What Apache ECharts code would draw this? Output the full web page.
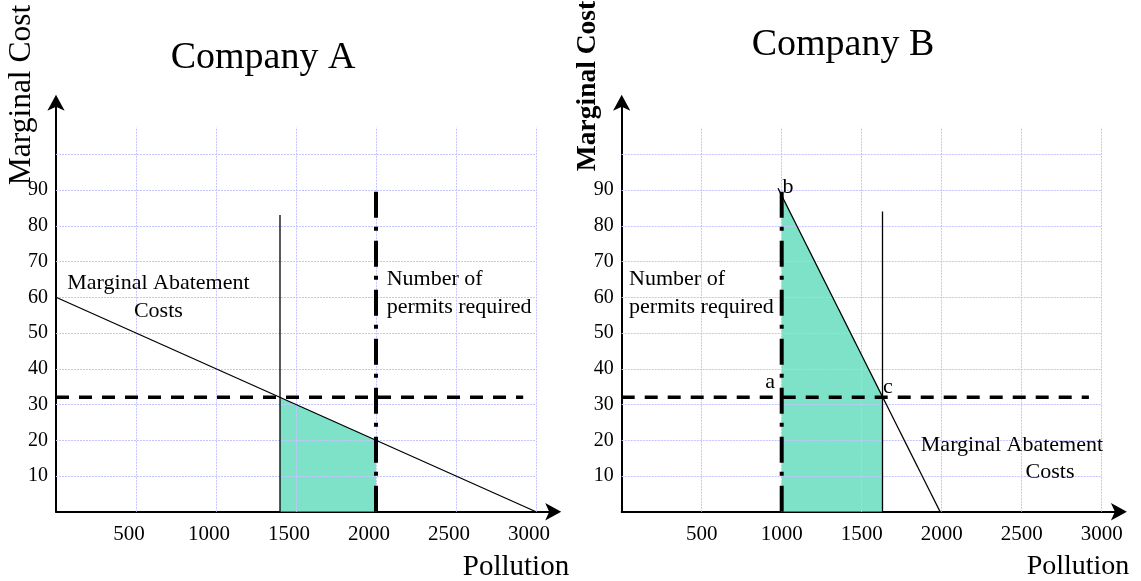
<!DOCTYPE html>
<html>
<head>
<meta charset="utf-8">
<script src="https://cdn.jsdelivr.net/npm/echarts@6/dist/echarts.min.js"></script>
<style>
html,body{margin:0;padding:0;background:#fff;}
#c{width:1141px;height:581px;}
</style>
</head>
<body>
<div id="c"></div>
<script>
// ---- data ----
var xTickLabels = [500, 1000, 1500, 2000, 2500, 3000];
var yTickLabels = [10, 20, 30, 40, 50, 60, 70, 80, 90];
var yGridValues = [10, 20, 30, 40, 50, 60, 70, 80, 90, 100];
var gridTopValue = 107.5;
var gridRightValue = 3000;

// Company A
var macA = [[0, 60], [3000, 0]];
var areaA = [[1400, 0], [1400, 32], [2000, 20], [2000, 0]];
var thinA = [[1400, 0], [1400, 83]];
var permitsA = [[2000, 0], [2000, 90]];
var priceA = [[0, 32], [2920, 32]];

// Company B
var macB = [[977, 90.5], [1990, 0]];
var areaB = [[1000, 0], [1000, 88.4], [1630, 32.2], [1630, 0]];
var thinB = [[1630, 0], [1630, 84]];
var permitsB = [[1000, 0], [1000, 90]];
var priceB = [[0, 32], [2920, 32]];

var labelsA = [
  {value: [640, 60], text: 'Marginal Abatement\nCosts', align: 'center'},
  {value: [2067, 61], text: 'Number of\npermits required', align: 'left'}
];
var labelsB = [
  {value: [46, 61], text: 'Number of\npermits required', align: 'left'},
  {value: [2439, 18.7], text: 'Marginal Abatement', align: 'center'},
  {value: [2677, 11.1], text: 'Costs', align: 'center'},
  {value: [1039, 90.8], text: 'b', align: 'center'},
  {value: [927, 36.3], text: 'a', align: 'center'},
  {value: [1664, 34.9], text: 'c', align: 'center'}
];

// ---- chart ----
var FONT = '"Liberation Serif", "Times New Roman", serif';
var chart = echarts.init(document.getElementById('c'), null, {renderer: 'canvas'});

var X_MAX = 3120, Y_MAX = 115;
var PX_X = 0.16, PX_Y = 3.575;
var gridW = X_MAX * PX_X, gridH = Y_MAX * PX_Y;
var axisBottom = 511.75;

function gridDef(left) {
  return {left: left, top: axisBottom - gridH, width: gridW, height: gridH, containLabel: false};
}
function xAxisDef(idx, shiftPad) {
  return {
    type: 'value', gridIndex: idx, min: 0, max: X_MAX, interval: 500,
    axisLine: {show: true, lineStyle: {color: '#000', width: 2}, symbol: ['none', 'arrow'], symbolSize: [13, 16], symbolOffset: [0, 6]},
    axisTick: {show: false}, splitLine: {show: false},
    axisLabel: {
      fontFamily: FONT, fontSize: 21, color: '#000', margin: 12,
      formatter: function (v) { return xTickLabels.indexOf(v) >= 0 ? '{t|' + v + '}' : ''; },
      rich: {t: {fontFamily: FONT, fontSize: 21, color: '#000', padding: [0, shiftPad, 0, 0]}}
    }
  };
}
function yAxisDef(idx) {
  return {
    type: 'value', gridIndex: idx, min: 0, max: Y_MAX, interval: 10,
    axisLine: {show: true, lineStyle: {color: '#000', width: 2}, symbol: ['none', 'arrow'], symbolSize: [13, 16], symbolOffset: [0, 6]},
    axisTick: {show: false}, splitLine: {show: false},
    axisLabel: {
      fontFamily: FONT, fontSize: 20, color: '#000', margin: 8,
      formatter: function (v) { return yTickLabels.indexOf(v) >= 0 ? String(v) : ''; }
    }
  };
}

function gridLinesSeries(idx) {
  var d = [];
  xTickLabels.forEach(function (x) { d.push([{coord: [x, 0]}, {coord: [x, gridTopValue]}]); });
  yGridValues.forEach(function (y) { d.push([{coord: [0, y]}, {coord: [gridRightValue, y]}]); });
  return {
    type: 'line', xAxisIndex: idx, yAxisIndex: idx, data: [], z: 3, silent: true,
    markLine: {
      silent: true, symbol: ['none', 'none'], label: {show: false},
      lineStyle: {color: '#c4c4ff', width: 1, type: [2, 1]},
      emphasis: {disabled: true},
      data: d
    }
  };
}
function lineSeries(idx, data, style, z) {
  return {
    type: 'line', xAxisIndex: idx, yAxisIndex: idx, data: data, symbol: 'none', silent: true,
    lineStyle: style, z: z || 5, animation: false
  };
}
function areaSeries(idx, data) {
  return {
    type: 'line', xAxisIndex: idx, yAxisIndex: idx, data: data, symbol: 'none', silent: true,
    lineStyle: {width: 0}, areaStyle: {color: '#7de2c8', opacity: 1}, z: 2, animation: false
  };
}
function labelSeries(idx, items) {
  return {
    type: 'scatter', xAxisIndex: idx, yAxisIndex: idx, symbolSize: 1, silent: true, z: 10,
    itemStyle: {opacity: 0},
    data: items.map(function (it) {
      return {
        value: it.value,
        label: {
          show: true, position: 'inside', formatter: it.text, align: it.align,
          verticalAlign: 'middle', fontFamily: FONT, fontSize: 22, color: '#000', lineHeight: 28,
          textBorderWidth: 0, opacity: 1
        }
      };
    })
  };
}

function panel(idx, d) {
  return [
    areaSeries(idx, d.area),
    gridLinesSeries(idx),
    lineSeries(idx, d.mac, {color: '#000', width: 1.3}, 6),
    lineSeries(idx, d.thin, {color: '#000', width: 1.3}, 6),
    lineSeries(idx, d.permits, {color: '#000', width: 4, type: [26, 10, 4, 9]}, 7),
    lineSeries(idx, d.price, {color: '#000', width: 3.5, type: [13, 10]}, 7),
    labelSeries(idx, d.labels)
  ];
}

var option = {
  animation: false,
  backgroundColor: '#fff',
  grid: [gridDef(56), gridDef(621.7)],
  xAxis: [xAxisDef(0, 14), xAxisDef(1, 0)],
  yAxis: [yAxisDef(0), yAxisDef(1)],
  series: [].concat(
    panel(0, {area: areaA, mac: macA, thin: thinA, permits: permitsA, price: priceA, labels: labelsA}),
    panel(1, {area: areaB, mac: macB, thin: thinB, permits: permitsB, price: priceB, labels: labelsB})
  ),
  graphic: [
    {type: 'text', x: 263, y: 58, style: {text: 'Company A', font: '38px ' + FONT, fill: '#000', align: 'center', verticalAlign: 'middle'}},
    {type: 'text', x: 843, y: 45, style: {text: 'Company B', font: '38px ' + FONT, fill: '#000', align: 'center', verticalAlign: 'middle'}},
    {type: 'text', x: 22, y: 95, rotation: Math.PI / 2, style: {text: 'Marginal Cost', font: '31.5px ' + FONT, fill: '#000', align: 'center', verticalAlign: 'middle'}},
    {type: 'text', x: 588, y: 86, rotation: Math.PI / 2, style: {text: 'Marginal Cost', font: 'bold 27.5px ' + FONT, fill: '#000', align: 'center', verticalAlign: 'middle'}},
    {type: 'text', x: 516, y: 567, style: {text: 'Pollution', font: '29px ' + FONT, fill: '#000', align: 'center', verticalAlign: 'middle'}},
    {type: 'text', x: 1078, y: 567, style: {text: 'Pollution', font: '28px ' + FONT, fill: '#000', align: 'center', verticalAlign: 'middle'}}
  ]
};
chart.setOption(option);
</script>
</body>
</html>
